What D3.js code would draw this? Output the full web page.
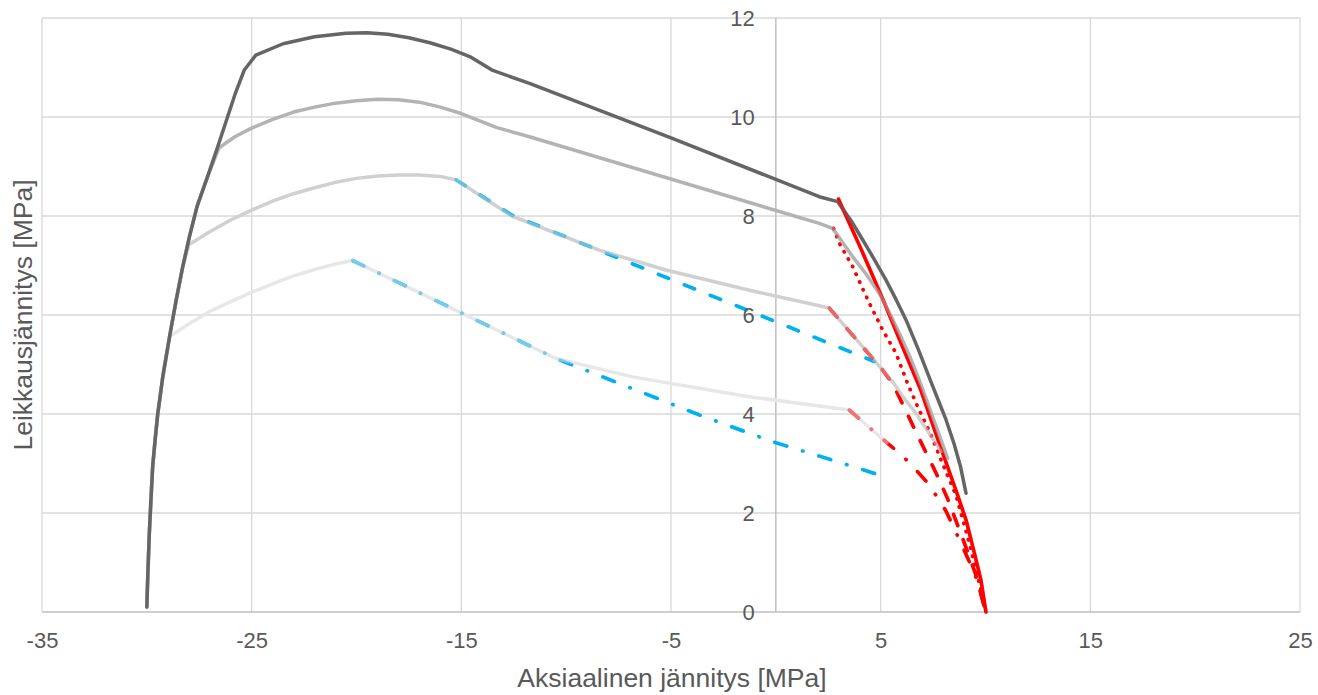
<!DOCTYPE html>
<html><head><meta charset="utf-8">
<script src="https://cdn.jsdelivr.net/npm/d3@7"></script>
<style>
body{margin:0;background:#fff}
text{font-family:"Liberation Sans",Arial,sans-serif;fill:#595959}
</style>
</head><body>
<svg id="c" width="1318" height="695"></svg>
<script>
// ---- data ----
const xTicks = [-35, -25, -15, -5, 5, 15, 25];
const yTicks = [0, 2, 4, 6, 8, 10, 12];
const xTitle = "Aksiaalinen jännitys [MPa]";
const yTitle = "Leikkausjännitys [MPa]";

// grey envelope curves [axial, shear]
const grey1 = [[-30,0.1],[-29.95,0.8],[-29.88,1.6],[-29.8,2.3],[-29.72,2.95],[-29.6,3.5],[-29.48,4.0],[-29.24,4.75],[-28.9,5.6],[-28.6,6.3],[-28.3,6.95],[-27.97,7.58],[-27.6,8.2],[-27.1,8.8],[-26.62,9.4],[-25.8,10.45],[-25.35,10.95],[-24.8,11.25],[-23.5,11.48],[-22,11.62],[-20.5,11.69],[-19.5,11.7],[-18.5,11.67],[-17.5,11.6],[-16.5,11.5],[-15.5,11.37],[-14.6,11.22],[-13.5,10.94],[-11.75,10.68],[-5,9.58],[2.07,8.39],[2.95,8.29],[3.6,7.9],[4.14,7.52],[4.7,7.12],[5.25,6.71],[5.75,6.3],[6.21,5.9],[6.8,5.3],[7.4,4.65],[8.12,3.88],[8.5,3.4],[8.8,2.95],[9.07,2.4]];
const grey2 = [[-30,0.1],[-29.95,0.8],[-29.88,1.6],[-29.8,2.3],[-29.72,2.95],[-29.6,3.5],[-29.48,4.0],[-29.24,4.75],[-28.9,5.6],[-28.6,6.3],[-28.3,6.95],[-27.97,7.58],[-27.6,8.2],[-27.1,8.8],[-26.55,9.38],[-25.8,9.6],[-25.03,9.77],[-24,9.95],[-23,10.1],[-22,10.2],[-21,10.28],[-20,10.33],[-19,10.36],[-18,10.35],[-17,10.3],[-16,10.2],[-15,10.07],[-14,9.9],[-13.34,9.79],[-11.75,9.6],[2.07,7.85],[2.71,7.75],[3.66,7.18],[4.3,6.83],[4.93,6.44],[5.4,6.06],[5.89,5.63],[6.4,5.15],[6.84,4.69],[7.6,3.8],[8.2,3.1]];
const grey3 = [[-30,0.1],[-29.95,0.8],[-29.88,1.6],[-29.8,2.3],[-29.72,2.95],[-29.6,3.5],[-29.48,4.0],[-29.24,4.75],[-28.9,5.6],[-28.6,6.3],[-28.3,6.95],[-28.0,7.42],[-27,7.68],[-26,7.92],[-25,8.12],[-24,8.3],[-23,8.45],[-22,8.57],[-21,8.68],[-20,8.76],[-19,8.81],[-18,8.83],[-17,8.83],[-16,8.8],[-15.25,8.73],[-12.6,8.0],[-8.42,7.31],[-5.24,6.91],[-1.26,6.5],[2.55,6.14],[5.09,4.89],[5.57,4.65],[6.1,4.33],[6.69,4.01],[7.3,3.62],[7.88,3.24]];
const grey4 = [[-30,0.1],[-29.95,0.8],[-29.88,1.6],[-29.8,2.3],[-29.72,2.95],[-29.6,3.5],[-29.48,4.0],[-29.24,4.75],[-28.92,5.56],[-28,5.82],[-27,6.07],[-26,6.27],[-25,6.46],[-24,6.63],[-23,6.79],[-22,6.92],[-21,7.03],[-20.18,7.1],[-10.48,5.12],[-6.83,4.75],[-1.27,4.35],[3.5,4.08],[5.3,3.42]];

// blue compression branches
const blueDash = [[-15.25,8.73],[-12.6,8.02],[4.7,5.06]];
const blueDashDot = [[-20.18,7.1],[-10.48,5.12],[-3.65,3.98],[-0.15,3.44],[3.98,2.9],[5.41,2.7]];

// red tension branches
const redSolid = [[2.99,8.34],[4.1,7.3],[5.12,6.3],[6.0,5.4],[6.9,4.5],[7.8,3.4],[8.59,2.46],[9.07,1.86],[9.47,1.19],[9.78,0.65],[10.02,0]];
const redDot = [[2.75,7.75],[3.03,7.45],[3.66,6.98],[4.46,6.24],[5.09,5.7],[5.73,5.23],[6.28,4.62],[6.76,4.15],[7.4,3.58],[7.88,3.07],[8.59,2.36],[9.23,1.39],[9.86,0.31],[10.02,0]];
const redDash = [[2.55,6.14],[5.09,4.89],[5.57,4.62],[6.75,3.58],[7.64,2.81],[8.18,2.3],[8.9,1.5],[9.5,0.8],[10.02,0]];
const redDashDot = [[3.5,4.08],[5.3,3.42],[5.8,3.24],[6.37,3.02],[7.32,2.57],[8.1,2.05],[8.75,1.47],[9.3,0.95],[9.65,0.6],[10.0,0]];

// ---- drawing ----
const svg = d3.select("#c");
const x = d3.scaleLinear().domain([-35, 25]).range([42, 1300]);
const y = d3.scaleLinear().domain([0, 12]).range([612, 18]);

const grid = svg.append("g");
grid.selectAll("line.v").data(xTicks).join("line")
  .attr("x1", d => x(d)).attr("x2", d => x(d))
  .attr("y1", y(0)).attr("y2", y(12))
  .attr("stroke", "#d9d9d9").attr("stroke-width", 1.3);
grid.selectAll("line.h").data(yTicks.filter(d => d > 0)).join("line")
  .attr("x1", x(-35)).attr("x2", x(25))
  .attr("y1", d => y(d)).attr("y2", d => y(d))
  .attr("stroke", "#d9d9d9").attr("stroke-width", 1.3);

// axis lines
svg.append("line").attr("x1", x(0)).attr("x2", x(0)).attr("y1", y(0)).attr("y2", y(12))
  .attr("stroke", "#bfbfbf").attr("stroke-width", 1.5);
svg.append("line").attr("x1", x(-35)).attr("x2", x(25)).attr("y1", y(0)).attr("y2", y(0))
  .attr("stroke", "#bfbfbf").attr("stroke-width", 1.5);

const line = d3.line().x(d => x(d[0])).y(d => y(d[1]));

function draw(data, color, width, dash, opacity) {
  svg.append("path").datum(data)
    .attr("d", line)
    .attr("fill", "none")
    .attr("stroke", color)
    .attr("stroke-width", width)
    .attr("stroke-linejoin", "round")
    .attr("stroke-linecap", "round")
    .attr("stroke-dasharray", dash || null)
    .attr("stroke-opacity", opacity == null ? 1 : opacity);
}

const BLUE = "#00b0f0", RED = "#ff0000";
const colored = [
  [blueDash, BLUE, "11,17"],
  [blueDashDot, BLUE, "12.5,16.5,0.5,16.5"],
  [redDashDot, RED, "12.5,16.5,0.5,16.5"],
  [redDash, RED, "12,15"],
  [redDot, RED, "0.5,8"],
  [redSolid, RED, null]
];
colored.forEach(c => draw(c[0], c[1], 3.5, c[2]));

draw(grey4, "#e7e7e7", 3.5);
draw(grey3, "#d0d0d0", 3.5);
draw(grey2, "#b3b3b3", 3.5);
draw(grey1, "#656565", 3.5);

// coloured lines shine through the grey where they overlap
colored.forEach(c => draw(c[0], c[1], 3.5, c[2], 0.5));

// axes (labels only)
const fmt = d => String(d);
const xAxis = d3.axisBottom(x).tickValues(xTicks).tickSize(0).tickFormat(fmt);
const gx = svg.append("g").attr("transform", `translate(0,${y(0)})`).call(xAxis);
gx.select(".domain").remove();
gx.selectAll("text").attr("y", 36).attr("dy", 0)
  .style("font-size", "22px").style("font-family", '"Liberation Sans",Arial,sans-serif').attr("fill", "#595959");

const yAxis = d3.axisLeft(y).tickValues(yTicks).tickSize(0).tickPadding(21).tickFormat(fmt);
const gy = svg.append("g").attr("transform", `translate(${x(0)},0)`).call(yAxis);
gy.select(".domain").remove();
gy.selectAll("text").attr("dy", "0.35em")
  .style("font-size", "22px").style("font-family", '"Liberation Sans",Arial,sans-serif').attr("fill", "#595959");

svg.append("text").attr("x", 672).attr("y", 687).attr("text-anchor", "middle")
  .style("font-size", "26.5px").text(xTitle);
svg.append("text").attr("transform", "translate(32,315) rotate(-90)").attr("text-anchor", "middle")
  .style("font-size", "26.5px").text(yTitle);
</script>
</body></html>
